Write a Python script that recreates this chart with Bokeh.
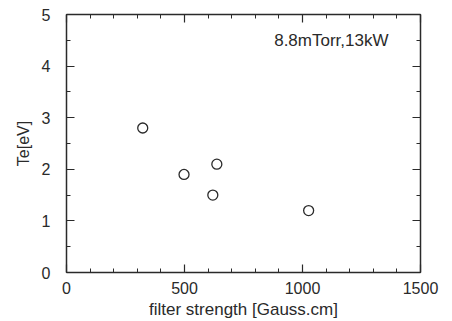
from bokeh.plotting import figure
from bokeh.models import LinearAxis, Range1d, Label, FixedTicker
from bokeh.embed import file_html
from bokeh.resources import INLINE

filter_strength = [323, 498, 620, 637, 1026]
te_ev = [2.8, 1.9, 1.5, 2.1, 1.2]
x_ticks = [0, 500, 1000, 1500]
y_ticks = [0, 1, 2, 3, 4, 5]
annotation = "8.8mTorr,13kW"

INK = "#2a2a2a"
FONT = "Liberation Sans"

p = figure(width=452, height=321, output_backend="svg", toolbar_location=None,
           x_range=Range1d(0, 1500), y_range=Range1d(0, 5),
           min_border_left=66, min_border_right=32, min_border_top=14, min_border_bottom=47)
p.grid.visible = False
p.outline_line_color = None
p.background_fill_color = "white"

p.scatter(filter_strength, te_ev, marker="circle", size=10, fill_color=None,
          line_color=INK, line_width=1.3)

def style(ax, ticks, minor, show_labels):
    ax.ticker = FixedTicker(ticks=ticks, minor_ticks=minor)
    ax.axis_line_color = INK
    ax.axis_line_width = 1.5
    ax.major_tick_line_color = INK
    ax.minor_tick_line_color = INK
    ax.major_tick_line_width = 1.2
    ax.minor_tick_line_width = 1.0
    ax.major_tick_in = 8
    ax.major_tick_out = 0
    ax.minor_tick_in = 4
    ax.minor_tick_out = 0
    ax.major_label_text_font = FONT
    ax.major_label_text_color = INK
    ax.major_label_text_font_size = "16px"
    if not show_labels:
        ax.major_label_text_alpha = 0
        ax.major_label_text_font_size = "1px"
        ax.major_label_standoff = 0

x_minor = list(range(0, 1501, 100))
y_minor = [i * 0.5 for i in range(11)]

xa = p.xaxis[0]
style(xa, x_ticks, x_minor, True)
xa.axis_label = "filter strength [Gauss.cm]"
xa.major_label_standoff = 9
xa.axis_label_standoff = 3
xa.axis_label_text_font = FONT
xa.axis_label_text_font_style = "normal"
xa.axis_label_text_font_size = "17px"
xa.axis_label_text_color = INK

ya = p.yaxis[0]
style(ya, y_ticks, y_minor, True)
ya.axis_label = "Te[eV]"
ya.major_label_standoff = 16
ya.axis_label_standoff = 7
ya.axis_label_text_font = FONT
ya.axis_label_text_font_style = "normal"
ya.axis_label_text_font_size = "16px"
ya.axis_label_text_color = INK

top = LinearAxis()
style(top, x_ticks, x_minor, False)
p.add_layout(top, "above")
right = LinearAxis()
style(right, y_ticks, y_minor, False)
p.add_layout(right, "right")

p.add_layout(Label(x=880, y=4.5, text=annotation, text_font=FONT, text_font_size="17px",
                   text_color=INK, text_baseline="middle"))

open("out.html", "w").write(file_html(p, INLINE))
